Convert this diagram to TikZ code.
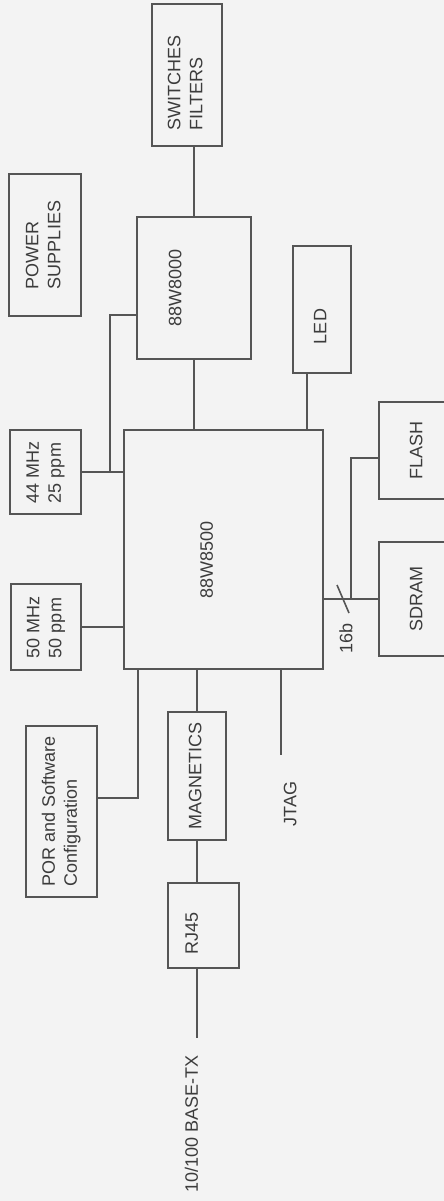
\documentclass[tikz,border=0pt]{standalone}
\usepackage{fontspec}
\usepackage{tikz}
\usepackage{xcolor}
\setmainfont{Liberation Sans}

\definecolor{paper}{HTML}{F3F3F3}
\definecolor{wire}{HTML}{555555}
\definecolor{ink}{HTML}{3C3C3C}
\newcommand{\vtext}[1]{\rotatebox{90}{\begin{tabular}{@{}l@{}}#1\end{tabular}}}
\tikzset{
	txt/.style={text=ink, inner sep=0pt, font=\fontsize{18}{22}\selectfont},
	blk/.style={txt, draw=wire, line width=1.6pt},
}

\begin{document}
\begin{tikzpicture}[x=1pt, y=-1pt, line width=1.6pt, draw=wire]
	\fill[paper] (0,0) rectangle (444,1201);
	\useasboundingbox (0,0) rectangle (444,1201);
	\node[blk, minimum width=70pt, minimum height=142pt, label={[txt,yshift=-8pt]center:\vtext{SWITCHES\\FILTERS}}] (sw) at (187,75) {};
	\node[blk, minimum width=72pt, minimum height=142pt] (ps) at (45,245) {\vtext{POWER\\SUPPLIES}};
	\node[blk, minimum width=114pt, minimum height=142pt, label={[txt,xshift=-17pt]center:\vtext{88W8000}}] (w8000) at (194,288) {};
	\node[blk, minimum width=58pt, minimum height=127pt, label={[txt,yshift=-17pt]center:\vtext{LED}}] (led) at (322,309.5) {};
	\node[blk, minimum width=199pt, minimum height=239pt, label={[txt,xshift=-15pt,yshift=-10pt]center:\vtext{88W8500}}] (w8500) at (223.5,549.5) {};
	\node[blk, minimum width=71pt, minimum height=84pt] (c44) at (45.5,472) {\vtext{44 MHz\\25 ppm}};
	\node[blk, minimum width=70pt, minimum height=86pt] (c50) at (46,627) {\vtext{50 MHz\\50 ppm}};
	\node[blk, minimum width=78pt, minimum height=97pt] (flash) at (418,450.5) {\vtext{FLASH}};
	\node[blk, minimum width=78pt, minimum height=114pt] (sdram) at (418,599) {\vtext{SDRAM}};
	\node[blk, minimum width=71pt, minimum height=171pt] (por) at (61.5,811.5) {\vtext{POR and Software\\Configuration}};
	\node[blk, minimum width=58pt, minimum height=128pt] (mag) at (197,776) {\vtext{MAGNETICS}};
	\node[blk, minimum width=71pt, minimum height=85pt, label={[txt,xshift=-10pt,yshift=-7.5pt]center:\vtext{RJ45}}] (rj45) at (203.5,925.5) {};

	\draw (w8000.north) -- (w8000.north |- sw.south);
	\draw (w8000.south) -- (w8000.south |- w8500.north);
	\draw ([xshift=-15pt]led.south) -- ([xshift=-15pt]led.south |- w8500.north);
	\coordinate (j44) at (110,472);
	\draw ([yshift=-27pt]w8000.west) -| (j44);
	\draw (c44.east) -- (c44.east -| w8500.west);
	\draw (c50.east) -- (c50.east -| w8500.west);
	\draw (w8500.east |- sdram.west) -- (sdram.west);
	\coordinate (fork) at (351,599);
	\draw (fork) |- ([yshift=-7.5pt]flash.west);
	\coordinate (bus) at (343,599);
	\draw ([shift={(-6,-14)}]bus) -- ([shift={(6,14)}]bus);
	\node[txt] (width) at (348,638) {\vtext{16b}};
	\draw ([xshift=15pt]w8500.south west) |- ([yshift=13.5pt]por.east);
	\draw (mag.north) -- (mag.north |- w8500.south);
	\coordinate (jtag) at (281,755);
	\draw (w8500.south -| jtag) -- (jtag);
	\node[txt] (jtaglbl) at (292,804) {\vtext{JTAG}};
	\draw (mag.south) -- (mag.south |- rj45.north);
	\coordinate (eth) at (197,1038);
	\draw (rj45.south -| eth) -- (eth);
	\node[txt] (ethlbl) at (193.5,1124) {\vtext{10/100 BASE-TX}};
\end{tikzpicture}
\end{document}
